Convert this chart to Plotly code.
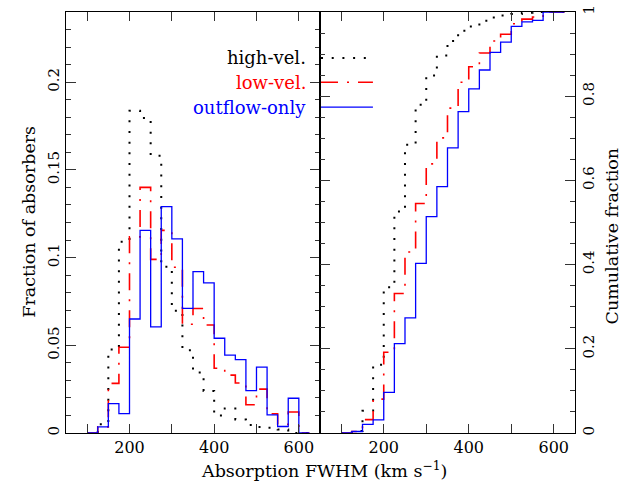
import numpy as np
import plotly.graph_objects as go

# Bin left edges (km/s), bin width 25
bin_edges = [100, 125, 150, 175, 200, 225, 250, 275, 300, 325, 350, 375,
             400, 425, 450, 475, 500, 525, 550, 575, 600, 625]

high_vel = [0.0, 0.005, 0.0476, 0.109, 0.1837, 0.1796, 0.158, 0.0948, 0.0697,
            0.0472, 0.0345, 0.024, 0.010, 0.014, 0.0077, 0.0045, 0.0034,
            0.0030, 0.0020, 0.0, 0.0]
low_vel = [0.0, 0.0035, 0.0283, 0.0489, 0.1118, 0.140, 0.099, 0.1155, 0.0945,
           0.062, 0.071, 0.0616, 0.0369, 0.033, 0.0285, 0.0161, 0.025, 0.011,
           0.005, 0.012, 0.0]
outflow_only = [0.0, 0.0035, 0.0167, 0.011, 0.065, 0.1155, 0.0605, 0.129,
                0.1107, 0.071, 0.092, 0.0856, 0.054, 0.0444, 0.0418, 0.0242,
                0.0375, 0.0103, 0.0037, 0.0198, 0.0]

series = [
    ("high-vel.", high_vel, "black", "2px,8.7px", 2.0),
    ("low-vel.", low_vel, "red", "17px,9px,2px,9px", 1.6),
    ("outflow-only", outflow_only, "blue", "solid", 1.3),
]

FONT = "DejaVu Serif"
fig = go.Figure()

for name, vals, color, dash, w in series:
    y = list(vals) + [vals[-1]]
    fig.add_trace(go.Scatter(x=bin_edges, y=y, mode="lines", line_shape="hv",
                             line=dict(color=color, dash=dash, width=w),
                             xaxis="x", yaxis="y", showlegend=False))
    arr = np.array(vals)
    cum = np.cumsum(arr) / arr.sum()
    yc = list(cum) + [cum[-1]]
    fig.add_trace(go.Scatter(x=bin_edges, y=yc, mode="lines", line_shape="hv",
                             line=dict(color=color, dash=dash, width=w),
                             xaxis="x2", yaxis="y2", showlegend=False))

common_x = dict(range=[50, 650], dtick=200, tick0=0,
                ticks="inside", ticklen=9, tickwidth=1.2, tickcolor="#333",
                minor=dict(dtick=100, ticklen=9, ticks="inside", tickcolor="#333",
                           tickwidth=1.2),
                showline=True, linecolor="black", linewidth=1.3, mirror="ticks",
                showgrid=False, zeroline=False,
                tickfont=dict(family=FONT, size=16, color="black"))

common_y = dict(ticks="inside", ticklen=10, tickwidth=1.2, tickcolor="#333",
                showline=True, linecolor="black", linewidth=1.3, mirror="ticks",
                showgrid=False, zeroline=False, tickangle=-90,
                ticklabeloverflow="allow",
                tickfont=dict(family=FONT, size=15, color="black"))

fig.update_layout(
    width=633, height=487,
    margin=dict(l=66, r=58, t=5, b=54),
    paper_bgcolor="white", plot_bgcolor="white",
    xaxis=dict(domain=[0, 0.499], anchor="y", **common_x),
    xaxis2=dict(domain=[0.499, 1.0], anchor="y2", **common_x),
    yaxis=dict(range=[0, 0.24], dtick=0.05, tick0=0, anchor="x",
               minor=dict(dtick=0.01, ticklen=5, ticks="inside", tickcolor="#333"),
               **common_y),
    yaxis2=dict(range=[0, 1], dtick=0.2, tick0=0, anchor="x2", side="right",
                minor=dict(dtick=0.05, ticklen=5, ticks="inside", tickcolor="#333"),
                **common_y),
)

annots = [
    dict(text="Absorption FWHM (km s<sup>\u22121</sup>)", x=0.507, y=-0.089,
         xref="paper", yref="paper", xanchor="center", yanchor="middle",
         showarrow=False, font=dict(family=FONT, size=17.5, color="black")),
    dict(text="Fraction of absorbers", x=-0.0727, y=0.502, textangle=-90,
         xref="paper", yref="paper", xanchor="center", yanchor="middle",
         showarrow=False, font=dict(family=FONT, size=17.5, color="black")),
    dict(text="Cumulative fraction", x=1.0727, y=0.467, textangle=-90,
         xref="paper", yref="paper", xanchor="center", yanchor="middle",
         showarrow=False, font=dict(family=FONT, size=17.5, color="black")),
]
leg_y = [0.891, 0.833, 0.774]
for (name, vals, color, dash, w), ly in zip(series, leg_y):
    annots.append(dict(text=name, x=0.4749, y=ly, xref="paper", yref="paper",
                       xanchor="right", yanchor="middle", showarrow=False,
                       font=dict(family=FONT, size=18, color=color)))
    fig.add_shape(type="line", xref="paper", yref="paper", x0=0.501, x1=0.603,
                  y0=ly, y1=ly, line=dict(color=color, dash=dash, width=w))
fig.update_layout(annotations=annots)

fig.write_html("out.html")
